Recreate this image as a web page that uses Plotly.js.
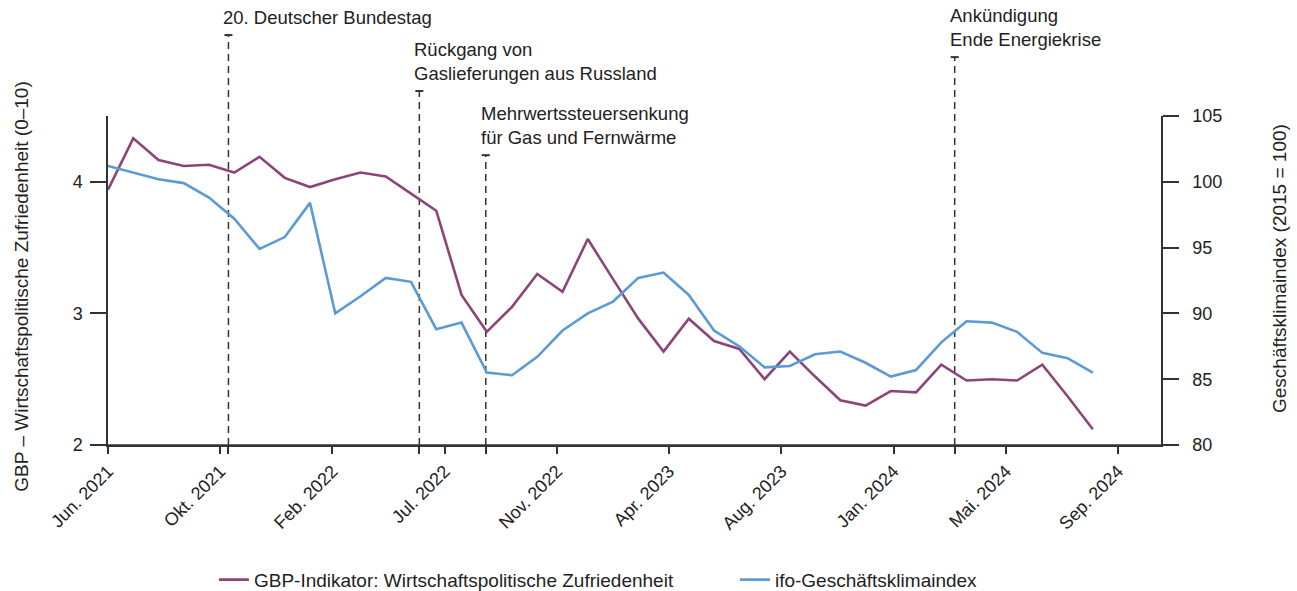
<!DOCTYPE html>
<html><head><meta charset="utf-8">
<script src="https://cdn.plot.ly/plotly-3.0.1.min.js"></script>
<style>body{margin:0;background:#fff}#chart{width:1297px;height:591px}</style>
</head><body><div id="chart"></div>
<script>
const months = ['2021-06','2021-07','2021-08','2021-09','2021-10','2021-11','2021-12',
  '2022-01','2022-02','2022-03','2022-04','2022-05','2022-06','2022-07','2022-08','2022-09','2022-10','2022-11','2022-12',
  '2023-01','2023-02','2023-03','2023-04','2023-05','2023-06','2023-07','2023-08','2023-09','2023-10','2023-11','2023-12',
  '2024-01','2024-02','2024-03','2024-04','2024-05','2024-06','2024-07','2024-08','2024-09'];
const gbp = [3.94, 4.33, 4.165, 4.12, 4.13, 4.07, 4.19, 4.03, 3.96, 4.02,
  4.07, 4.04, 3.91, 3.78, 3.14, 2.86, 3.05, 3.30, 3.165, 3.565,
  3.26, 2.96, 2.71, 2.96, 2.79, 2.73, 2.50, 2.71, 2.52, 2.34,
  2.30, 2.41, 2.40, 2.61, 2.49, 2.50, 2.49, 2.61, 2.37, 2.12];
const ifo = [101.2, 100.7, 100.2, 99.9, 98.8, 97.2, 94.9, 95.8, 98.4, 90.0,
  91.3, 92.7, 92.4, 88.8, 89.3, 85.5, 85.3, 86.7, 88.7, 90.0,
  90.9, 92.7, 93.1, 91.4, 88.7, 87.5, 85.9, 86.0, 86.9, 87.1,
  86.25, 85.2, 85.7, 87.8, 89.4, 89.3, 88.6, 87.0, 86.6, 85.5];
const tickVals = [0, 4.44, 8.89, 13.33, 17.78, 22.22, 26.67, 31.11, 35.56, 40];
const tickLabels = ['Jun. 2021','Okt. 2021','Feb. 2022','Jul. 2022','Nov. 2022','Apr. 2023','Aug. 2023','Jan. 2024','Mai. 2024','Sep. 2024'];
const eventX = [4.77, 12.33, 14.96, 33.53];
const eventTop = [1.246, 1.076, 0.881, 1.179];
const eventLabels = ['20. Deutscher Bundestag', 'Rückgang von<br>Gaslieferungen aus Russland',
  'Mehrwertssteuersenkung<br>für Gas und Fernwärme', 'Ankündigung<br>Ende Energiekrise'];
const seriesNames = ['GBP-Indikator: Wirtschaftspolitische Zufriedenheit', 'ifo-Geschäftsklimaindex'];
const axisTitles = ['GBP – Wirtschaftspolitische Zufriedenheit (0–10)', 'Geschäftsklimaindex (2015 = 100)'];

const xIdx = months.map((m, i) => i);
const FONT = '"Liberation Sans", Arial, Helvetica, sans-serif';
const TXT = '#222';
const AX = '#333';

const traces = [
  {x: xIdx, y: gbp, name: seriesNames[0], type: 'scatter', mode: 'lines',
   line: {color: '#8c4577', width: 2.6}, yaxis: 'y'},
  {x: xIdx, y: ifo, name: seriesNames[1], type: 'scatter', mode: 'lines',
   line: {color: '#5b9bd5', width: 2.6}, yaxis: 'y2'}
];

const allTicks = tickVals.concat(eventX);
const allTickText = tickLabels.concat(eventX.map(() => ''));

const shapes = [];
const annotations = [];
eventX.forEach((ex, i) => {
  shapes.push({type: 'line', xref: 'x', yref: 'paper', x0: ex, x1: ex, y0: 0, y1: eventTop[i],
    line: {color: AX, width: 1.5, dash: '7px,5px'}, layer: 'below'});
  shapes.push({type: 'line', xref: 'x', yref: 'paper', xsizemode: 'pixel', xanchor: ex,
    x0: -4, x1: 4, y0: eventTop[i], y1: eventTop[i], line: {color: AX, width: 2}});
  annotations.push({xref: 'x', yref: 'paper', x: ex, y: eventTop[i], xanchor: 'left', yanchor: 'bottom',
    xshift: -7, yshift: 5, align: 'left', showarrow: false, text: eventLabels[i],
    font: {family: FONT, size: 18.5, color: TXT}});
});
// axis titles
annotations.push({xref: 'paper', yref: 'paper', x: -0.083, y: 0.48, xanchor: 'center', yanchor: 'middle',
  textangle: -90, showarrow: false, text: axisTitles[0], font: {family: FONT, size: 19, color: TXT}});
annotations.push({xref: 'paper', yref: 'paper', x: 1.113, y: 0.538, xanchor: 'center', yanchor: 'middle',
  textangle: -90, showarrow: false, text: axisTitles[1], font: {family: FONT, size: 19, color: TXT}});
// extended baseline
shapes.push({type: 'line', xref: 'paper', yref: 'paper', x0: -0.0152, x1: 1.0152, y0: 0, y1: 0,
  line: {color: AX, width: 1.5}});

const layout = {
  width: 1297, height: 591,
  margin: {l: 108, r: 136, t: 116, b: 146, autoexpand: false},
  paper_bgcolor: '#fff', plot_bgcolor: '#fff',
  font: {family: FONT, size: 18, color: TXT},
  showlegend: true,
  legend: {orientation: 'h', x: 0.1006, xanchor: 'left', y: -0.352, yanchor: 'top',
    entrywidth: 476, entrywidthmode: 'pixels', font: {family: FONT, size: 19, color: TXT}},
  xaxis: {range: [0, 41.7], tickmode: 'array', tickvals: allTicks, ticktext: allTickText, automargin: false,
    tickangle: -45, ticks: 'outside', ticklen: 7, tickwidth: 1.5, tickcolor: AX,
    showline: true, linecolor: AX, linewidth: 1.5, showgrid: false, zeroline: false,
    tickfont: {family: FONT, size: 18, color: TXT}},
  yaxis: {range: [2, 4.5], tickvals: [2, 3, 4], ticks: 'outside', ticklen: 16, tickwidth: 1.5, tickcolor: AX,
    showline: true, linecolor: AX, linewidth: 1.5, showgrid: false, zeroline: false, automargin: false,
    ticklabelstandoff: 4, tickfont: {family: FONT, size: 18, color: TXT}},
  yaxis2: {range: [80, 105], tickvals: [80, 85, 90, 95, 100, 105], overlaying: 'y', side: 'right',
    ticks: 'outside', ticklen: 16, tickwidth: 1.5, tickcolor: AX, automargin: false,
    showline: true, linecolor: AX, linewidth: 1.5, showgrid: false, zeroline: false,
    ticklabelstandoff: 10, tickfont: {family: FONT, size: 18, color: TXT}},
  shapes: shapes,
  annotations: annotations
};

Plotly.newPlot('chart', traces, layout, {displayModeBar: false, responsive: false});
</script>
</body></html>
